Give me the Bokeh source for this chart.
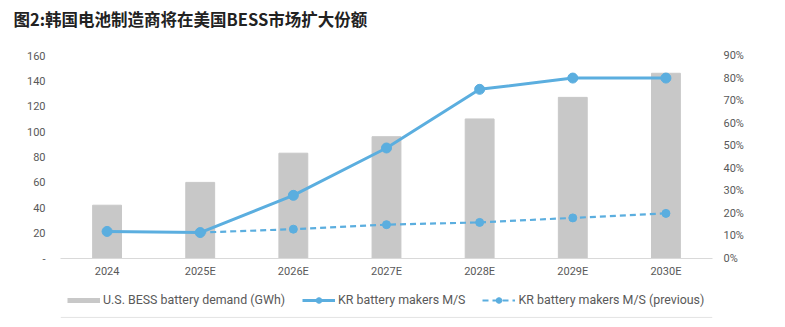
from bokeh.plotting import figure
from bokeh.layouts import column
from bokeh.models import (FactorRange, Range1d, LinearAxis, FixedTicker,
                          PrintfTickFormatter, Legend, LegendItem, ColumnDataSource, Span)
from bokeh.embed import file_html
from bokeh.resources import INLINE

title = "图2:韩国电池制造商将在美国BESS市场扩大份额"
categories = ["2024", "2025E", "2026E", "2027E", "2028E", "2029E", "2030E"]
demand_gwh = [42, 60, 83, 96, 110, 127, 146]
kr_share = [12, 11.5, 28, 49, 75, 80, 80]
prev_categories = ["2025E", "2026E", "2027E", "2028E", "2029E", "2030E"]
kr_share_prev = [11.5, 13, 15, 16, 18, 20]
left_ticks = [0, 20, 40, 60, 80, 100, 120, 140, 160]
right_ticks = [0, 10, 20, 30, 40, 50, 60, 70, 80, 90]
legend_labels = ["U.S. BESS battery demand (GWh)", "KR battery makers M/S",
                 "KR battery makers M/S (previous)"]

BLUE = "#5BAEDF"
GREY_BAR = "#C8C8C8"
TXT = "#595959"
FONT = "Roboto"

# title strip
tf = figure(width=785, height=40, x_range=Range1d(0, 1), y_range=Range1d(0, 1),
            output_backend="svg", toolbar_location=None,
            x_axis_location=None, y_axis_location=None,
            min_border_top=0, min_border_bottom=0)
tf.grid.visible = False
tf.outline_line_color = None
tf.background_fill_color = "white"
tf.border_fill_color = "white"
tf.title.text = title
tf.title.text_font = "Noto Sans CJK SC"
tf.title.text_font_size = "16.5px"
tf.title.text_font_style = "bold"
tf.title.text_color = "#222222"
tf.title.align = "left"
tf.title.vertical_align = "top"
tf.title.offset = -47
tf.title.standoff = 16

p = figure(x_range=FactorRange(*categories), y_range=Range1d(0, 160),
           width=785, height=245, output_backend="svg", toolbar_location=None,
           min_border_left=60, min_border_right=73, min_border_top=15,
           min_border_bottom=27)
p.extra_y_ranges = {"pct": Range1d(0, 90)}
p.outline_line_color = None
p.xgrid.visible = False
p.ygrid.visible = False
p.background_fill_color = "white"
p.border_fill_color = "white"

p.vbar(x=categories, top=demand_gwh, width=0.31, color=GREY_BAR)

src = ColumnDataSource(dict(x=categories, y=kr_share))
p.line("x", "y", source=src, y_range_name="pct", color=BLUE, line_width=3)
p.scatter("x", "y", source=src, y_range_name="pct", color=BLUE, size=10)

src2 = ColumnDataSource(dict(x=prev_categories, y=kr_share_prev))
p.line("x", "y", source=src2, y_range_name="pct", color=BLUE, line_width=2.2,
       line_dash="6 4")
p.scatter("x", "y", source=src2, y_range_name="pct", color=BLUE, size=8)

# left axis
ya = p.yaxis[0]
ya.ticker = FixedTicker(ticks=left_ticks)
ya.major_label_overrides = {0: "-"}
ya.axis_line_color = None
ya.major_tick_line_color = None
ya.minor_tick_line_color = None
ya.major_tick_out = 0
ya.major_label_standoff = 15
ya.major_label_text_color = TXT
ya.major_label_text_font = FONT
ya.major_label_text_font_size = "11px"

# right axis
ra = LinearAxis(y_range_name="pct", ticker=FixedTicker(ticks=right_ticks),
                formatter=PrintfTickFormatter(format="%d%%"))
ra.axis_line_color = None
ra.major_tick_line_color = None
ra.minor_tick_line_color = None
ra.major_tick_out = 0
ra.major_label_standoff = 11
ra.major_label_text_color = TXT
ra.major_label_text_font = FONT
ra.major_label_text_font_size = "11px"
p.add_layout(ra, "right")

xa = p.xaxis[0]
xa.axis_line_color = "#D9D9D9"
xa.axis_line_width = 1
xa.major_tick_line_color = None
xa.minor_tick_line_color = None
xa.major_tick_out = 0
xa.major_label_standoff = 6
xa.major_label_text_color = TXT
xa.major_label_text_font = FONT
xa.major_label_text_font_size = "11px"

# legend strip
lf = figure(width=785, height=42, x_range=Range1d(0, 1), y_range=Range1d(0, 1),
            output_backend="svg", toolbar_location=None,
            x_axis_location=None, y_axis_location=None,
            min_border_top=0, min_border_bottom=0)
lf.grid.visible = False
lf.outline_line_color = None
lf.background_fill_color = "white"
lf.border_fill_color = "white"

off = dict(x=[-10], y=[-10])  # dummy glyphs kept outside the view, used only for legend swatches
r_bar = lf.line(x=off["x"], y=off["y"], color=GREY_BAR, line_width=5)
r_l1 = lf.line(x=off["x"], y=off["y"], color=BLUE, line_width=3)
r_m1 = lf.scatter(x=off["x"], y=off["y"], color=BLUE, size=10)
r_l2 = lf.line(x=off["x"], y=off["y"], color=BLUE, line_width=2.2, line_dash="6 4")
r_m2 = lf.scatter(x=off["x"], y=off["y"], color=BLUE, size=8)

legend = Legend(items=[
    LegendItem(label=legend_labels[0], renderers=[r_bar]),
    LegendItem(label=legend_labels[1], renderers=[r_l1, r_m1]),
    LegendItem(label=legend_labels[2], renderers=[r_l2, r_m2]),
], orientation="horizontal", location=(7, 20))
legend.border_line_color = None
legend.background_fill_alpha = 0
legend.label_text_font = FONT
legend.label_text_font_size = "12.4px"
legend.label_text_color = TXT
legend.glyph_width = 33
legend.glyph_height = 14
legend.label_standoff = 3
legend.spacing = 17
legend.padding = 2
legend.margin = 0
lf.add_layout(legend, "center")
lf.add_layout(Span(location=0.24, dimension="width", line_color="#E3E3E3", line_width=1))

with open("out.html", "w") as f:
    f.write(file_html(column(tf, p, lf, spacing=0), INLINE))
